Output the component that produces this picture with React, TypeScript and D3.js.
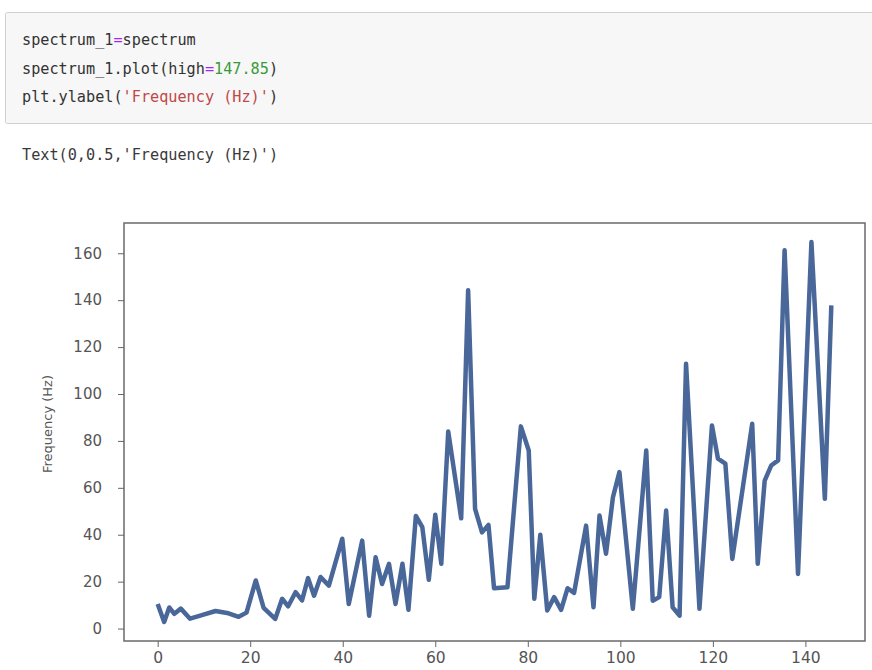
import * as d3 from "d3";
import { useEffect, useRef } from "react";

const WIDTH = 872;
const HEIGHT = 670;

// vertices of the spectrum line
const freqs = [
    0, 1.4, 2.5, 3.6, 5.0, 7.0, 9.2, 12.5, 15.3, 17.5, 19.2, 21.2, 22.9, 25.4, 26.9, 28.2, 29.8, 31.2, 32.5, 33.8,
    35.2, 37.0, 39.9, 41.3, 44.2, 45.7, 47.1, 48.5, 50.0, 51.4, 52.9, 54.2, 55.8, 57.2, 58.6, 60.0, 61.3, 62.8,
    65.6, 67.1, 68.6, 70.1, 71.5, 72.7, 75.6, 78.5, 80.2, 81.4, 82.7, 84.2, 85.7, 87.2, 88.6, 90.0, 92.6, 94.2,
    95.5, 96.9, 98.4, 99.8, 102.7, 105.6, 107.0, 108.4, 109.9, 111.3, 112.8, 114.2, 117.1, 119.8, 121.1, 122.7,
    124.2, 128.5, 129.7, 131.2, 132.6, 134.1, 135.5, 138.4, 141.3, 144.2, 145.6,
];
const amplitudes = [
    10.5, 2.8, 9.0, 6.3, 8.5, 4.2, 5.5, 7.5, 6.5, 5.0, 6.8, 20.5, 8.8, 4.1, 12.7, 9.5, 15.5, 12.0, 21.5, 14.0,
    22.0, 18.3, 38.3, 10.5, 37.5, 5.5, 30.4, 19.0, 27.6, 10.5, 27.6, 8.0, 48.0, 43.2, 20.8, 48.5, 27.6, 84.0,
    47.0, 144.2, 51.0, 41.0, 44.2, 17.2, 17.6, 86.2, 75.9, 12.7, 40.0, 7.7, 13.4, 8.0, 17.2, 15.2, 43.9, 9.1,
    48.2, 31.9, 56.0, 66.7, 8.4, 75.9, 11.9, 13.4, 50.3, 9.1, 5.5, 112.9, 8.4, 86.6, 72.4, 70.3, 29.7, 87.3,
    27.6, 63.1, 69.5, 71.7, 161.3, 23.3, 164.8, 55.3, 137.8,
];
const xTicks = [0, 20, 40, 60, 80, 100, 120, 140];
const yTicks = [0, 20, 40, 60, 80, 100, 120, 140, 160];

const codeLines = [
    [{ t: "spectrum_1", c: "#333" }, { t: "=", c: "#aa22ff" }, { t: "spectrum", c: "#333" }],
    [{ t: "spectrum_1.plot(high", c: "#333" }, { t: "=", c: "#aa22ff" }, { t: "147.85", c: "#3a9a3a" }, { t: ")", c: "#333" }],
    [{ t: "plt.ylabel(", c: "#333" }, { t: "'Frequency (Hz)'", c: "#c04848" }, { t: ")", c: "#333" }],
];
const outputText = "Text(0,0.5,'Frequency (Hz)')";

export default function App() {
    const svgRef = useRef<SVGSVGElement | null>(null);

    useEffect(() => {
        if (!svgRef.current) return;
        const svg = d3.select(svgRef.current);
        svg.selectAll("*").remove();

        // notebook cell
        svg.append("rect").attr("x", 5.5).attr("y", 12.5).attr("width", 880).attr("height", 111)
            .attr("rx", 2).attr("fill", "#f7f7f7").attr("stroke", "#d0d0d0");
        const mono = "'DejaVu Sans Mono', 'Liberation Mono', monospace";
        codeLines.forEach((parts, i) => {
            const t = svg.append("text").attr("x", 22).attr("y", 45 + i * 28.5)
                .attr("font-family", mono).attr("font-size", 15.2).attr("xml:space", "preserve");
            parts.forEach((p) => t.append("tspan").attr("fill", p.c).text(p.t));
        });
        svg.append("text").attr("x", 22).attr("y", 160).attr("font-family", mono).attr("font-size", 15.2)
            .attr("fill", "#3a3a3a").text(outputText);

        // chart
        const left = 124, right = 865, top = 223, bottom = 641;
        const xExt = d3.extent(freqs) as [number, number];
        const yExt = d3.extent(amplitudes) as [number, number];
        const xPad = (xExt[1] - xExt[0]) * 0.05;
        const yPad = (yExt[1] - yExt[0]) * 0.05;
        const x = d3.scaleLinear().domain([xExt[0] - xPad, xExt[1] + xPad]).range([left, right]);
        const y = d3.scaleLinear().domain([yExt[0] - yPad, yExt[1] + yPad]).range([bottom, top]);
        const sans = "'DejaVu Sans', sans-serif";

        svg.append("rect").attr("x", left).attr("y", top).attr("width", right - left).attr("height", bottom - top)
            .attr("fill", "#fff").attr("stroke", "#6a6a6a").attr("stroke-width", 1.5);

        const xAxis = svg.append("g").attr("transform", `translate(0,${bottom})`)
            .call(d3.axisBottom(x).tickValues(xTicks).tickSize(6).tickPadding(5).tickSizeOuter(0));
        xAxis.select(".domain").remove();
        xAxis.selectAll("line").attr("stroke", "#666");
        xAxis.selectAll("text").attr("font-family", sans).attr("font-size", 15.5).attr("fill", "#555");

        const yAxis = svg.append("g").attr("transform", `translate(${left},0)`)
            .call(d3.axisLeft(y).tickValues(yTicks).tickSize(6).tickPadding(16).tickSizeOuter(0));
        yAxis.select(".domain").remove();
        yAxis.selectAll("line").attr("stroke", "#666");
        yAxis.selectAll("text").attr("font-family", sans).attr("font-size", 15).attr("fill", "#555");

        svg.append("text").attr("transform", `translate(52,${(top + bottom) / 2 - 8}) rotate(-90)`)
            .attr("text-anchor", "middle").attr("font-family", sans).attr("font-size", 13).attr("fill", "#555")
            .text("Frequency (Hz)");

        const line = d3.line<number>().x((_, i) => x(freqs[i])).y((d) => y(d));
        svg.append("path").datum(amplitudes).attr("fill", "none").attr("stroke", "#4a679a")
            .attr("stroke-width", 4.5).attr("stroke-linejoin", "round").attr("d", line);
    }, []);

    return (
        <div style={{ position: "fixed", left: 0, top: 0, width: WIDTH, height: HEIGHT, background: "#fff" }}>
            <svg ref={svgRef} width={WIDTH} height={HEIGHT} />
        </div>
    );
}
